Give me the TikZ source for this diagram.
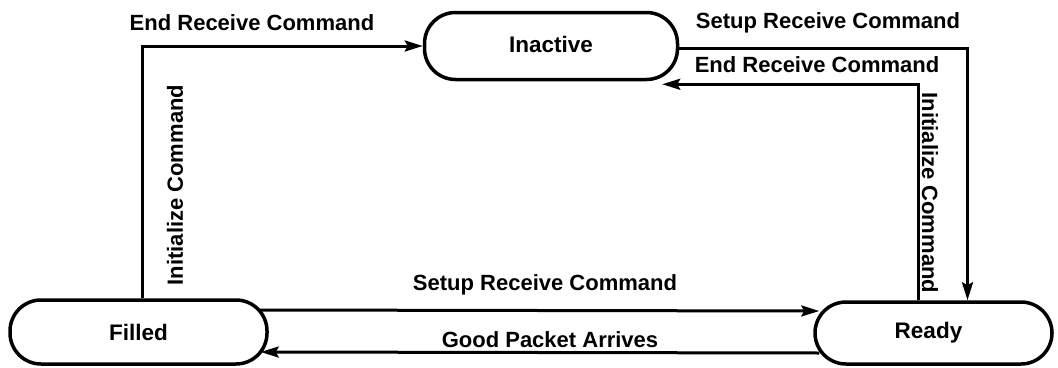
\documentclass[tikz,border=0pt]{standalone}
\usepackage{fontspec}
\setmainfont{Liberation Sans}
\usetikzlibrary{arrows.meta}
\begin{document}
\begin{tikzpicture}[x=1pt,y=-1pt,
  state/.style={draw,line width=3.5pt,rounded corners=31pt,inner sep=0pt,font=\fontsize{22.5}{26}\selectfont\bfseries},
  lbl/.style={font=\fontsize{22}{26}\selectfont\bfseries,inner sep=0pt},
  arr/.style={line width=3pt,-{Stealth[length=18pt,width=11pt,inset=3pt]}}]
\useasboundingbox[fill=white] (0,0) rectangle (1058,367);
\node[state,minimum width=253pt,minimum height=67pt] (inactive) at (551,46) {\raisebox{3pt}{Inactive}};
\node[state,minimum width=257pt,minimum height=64pt] (filled) at (138.5,332) {Filled};
\node[state,minimum width=237pt,minimum height=62pt] (ready) at (933.5,333) {\hspace*{-10pt}Ready};
% connectors
\draw[arr] ([xshift=4pt]filled.north) |- (inactive.west);
\draw[arr] ([yshift=-2pt]inactive.east) -| ([xshift=34pt]ready.north);
\draw[arr] ([xshift=-15pt]ready.north) |- ([xshift=-17pt,yshift=-3pt]inactive.south east);
\draw[arr] ([xshift=-9pt,yshift=22pt]filled.east) -- ([xshift=6pt,yshift=22pt]ready.west);
\draw[arr] ([xshift=6pt,yshift=-20pt]ready.west) -- ([xshift=-8pt,yshift=-20pt]filled.east);
% labels
\node[lbl] (l1) at (252,23) {End Receive Command};
\node[lbl] (l2) at (828,23) {Setup Receive Command};
\node[lbl] (l3) at (817,65) {End Receive Command};
\node[lbl,rotate=90] (l4) at (175,185) {Initialize Command};
\node[lbl,rotate=-90] (l5) at (930,193) {Initialize Command};
\node[lbl] (l6) at (545,285) {Setup Receive Command};
\node[lbl] (l7) at (550,340) {Good Packet Arrives};
\end{tikzpicture}
\end{document}
